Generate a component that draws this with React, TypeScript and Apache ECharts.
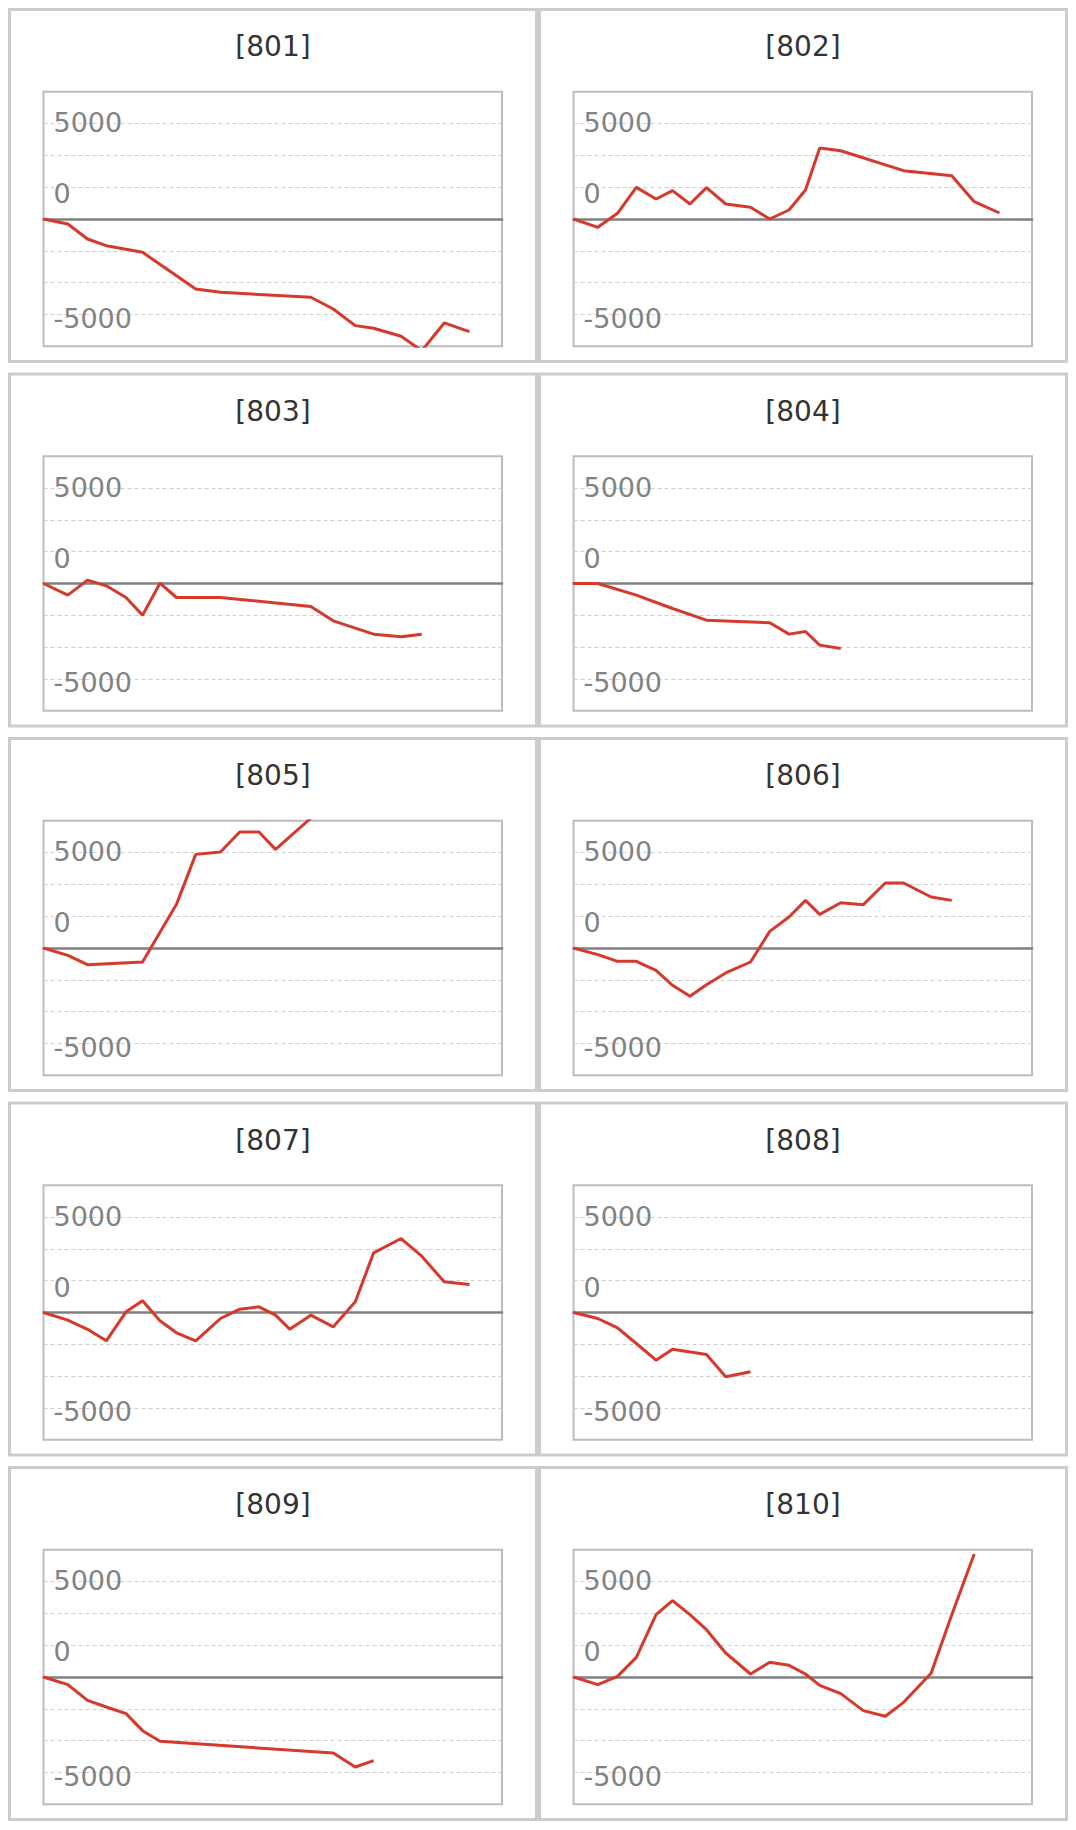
import React, { useEffect, useRef } from "react";
import * as echarts from "echarts";

// Panel titles
const panelNames = ["[801]", "[802]", "[803]", "[804]", "[805]", "[806]", "[807]", "[808]", "[809]", "[810]"];

// Shared time positions (share of the x range, 0..100)
const days = [0, 5.3, 9.6, 13.7, 18.0, 21.6, 25.4, 29.0, 33.2, 38.6, 42.8, 47.0, 50.6, 53.7, 58.3, 63.2, 68.0, 72.0, 78.0, 82.5, 87.4, 92.9];

// Cumulative values per panel (null = no vertex there)
const s801 = [0, -262, -1047, -1396, null, -1745, null, null, -3665, -3839, null, null, null, null, -4100, -4712, -5584, -5724, -6142, -6900, -5444, -5898];
const s802 = [0, -436, 297, 1658, 1047, 1483, 785, 1640, 785, 611, 0, 471, 1518, 3717, 3577, null, null, 2530, null, 2269, 907, 314];
const s803 = [0, -611, 175, -122, -733, -1658, 17, -733, null, -733, null, null, null, null, -1204, -1954, null, -2652, -2792, -2652];
const s804 = [0, 0, null, -611, null, -1309, null, -1920, null, null, -2059, -2652, -2513, -3228, -3403];
const s805 = [0, -384, -873, null, null, -733, null, 2286, 4903, 5026, 6073, 6073, 5165, null, 6800];
const s806 = [0, -349, -698, -698, -1169, -1954, -2530, -1920, -1309, -733, 873, 1623, 2495, 1762, 2373, 2268, 3403, 3403, 2670, 2495];
const s807 = [0, -401, -880, -1483, 35, 611, -436, -1064, -1483, -314, 175, 297, -140, -873, -140, -750, 558, 3124, 3874, 2949, 1605, 1466];
const s808 = [0, -314, -803, -1623, -2495, -1920, null, -2199, -3368, -3106];
const s809 = [0, -401, -1222, -1570, -1920, -2810, -3368, null, null, null, null, null, null, null, null, -3979, -4712, -4380];
const s810 = [0, -401, 35, 1030, 3263, 3996, 3263, 2478, 1256, 157, 768, 611, 157, -436, -873, -1762, -2059, -1326, 200, 3263, 6439];

const seriesValues = [s801, s802, s803, s804, s805, s806, s807, s808, s809, s810];

// Y axis: labelled ticks
const yLabelValues = [5000, 0, -5000];
const Y_MAX = 20000 / 3;
const Y_STEP = 5000 / 3;

const PANEL_W = 530;
const PANEL_H = 355;
const PITCH = 364.5;
const FONT = "'DejaVu Sans', sans-serif";

export default function App() {
  const ref = useRef<HTMLDivElement>(null);

  useEffect(() => {
    if (!ref.current) return;
    const chart = echarts.init(ref.current, null, { renderer: "svg" });

    const grids: any[] = [];
    const xAxes: any[] = [];
    const yAxes: any[] = [];
    const series: any[] = [];
    const titles: any[] = [];
    const graphics: any[] = [];

    seriesValues.forEach((vals, i) => {
      const px = (i % 2) * PANEL_W;
      const py = Math.floor(i / 2) * PITCH;

      graphics.push({
        type: "rect",
        silent: true,
        shape: { x: px + 1.5, y: py + 1.5, width: PANEL_W - 3, height: PANEL_H - 3 },
        style: { fill: "none", stroke: "#cccccc", lineWidth: 3 },
      });

      titles.push({
        text: panelNames[i],
        left: px + PANEL_W / 2,
        top: py + 38.5,
        padding: 0,
        textAlign: "center",
        textVerticalAlign: "middle",
        textStyle: { fontFamily: FONT, fontSize: 28, fontWeight: "normal", color: "#333333" },
      });

      grids.push({
        left: px + 35.5,
        top: py + 83.7,
        width: 458.5,
        height: 254.6,
        show: true,
        borderColor: "#bdbdbd",
        borderWidth: 2,
        backgroundColor: "transparent",
      });

      xAxes.push({
        type: "value",
        gridIndex: i,
        min: 0,
        max: 100,
        axisLine: { show: true, onZero: true, lineStyle: { color: "#808080", width: 2.6 } },
        axisTick: { show: false },
        axisLabel: { show: false },
        splitLine: { show: false },
      });

      yAxes.push({
        type: "value",
        gridIndex: i,
        min: -Y_MAX,
        max: Y_MAX,
        interval: Y_STEP,
        axisLine: { show: false },
        axisTick: { show: false },
        splitLine: {
          show: true,
          showMinLine: false,
          showMaxLine: false,
          lineStyle: { color: "#cfcfcf", width: 1, type: [4, 3] },
        },
        axisLabel: {
          inside: true,
          margin: 10,
          formatter: (v: number) => {
            const r = Math.round(v);
            if (r === yLabelValues[0]) return "{a|" + r + "}";
            if (r === yLabelValues[1]) return "{z|0}";
            if (r === yLabelValues[2]) return "{b|" + r + "}";
            return "";
          },
          rich: {
            a: { fontFamily: FONT, fontSize: 27, color: "#828282", padding: [0, 0, 2, 0] },
            z: { fontFamily: FONT, fontSize: 27, color: "#828282", padding: [0, 0, 51, 0] },
            b: { fontFamily: FONT, fontSize: 27, color: "#828282", padding: [8, 0, 0, 0] },
          },
        },
      });

      const data = days
        .map((d, k) => [d, vals[k]])
        .filter((p) => p[1] !== null && p[1] !== undefined);

      series.push({
        type: "line",
        xAxisIndex: i,
        yAxisIndex: i,
        data,
        showSymbol: false,
        symbol: "none",
        clip: true,
        lineStyle: { color: "#d6392b", width: 3 },
        emphasis: { disabled: true },
      });
    });

    chart.setOption({
      animation: false,
      backgroundColor: "#ffffff",
      title: titles,
      grid: grids,
      xAxis: xAxes,
      yAxis: yAxes,
      series,
      graphic: graphics,
    });

    return () => chart.dispose();
  }, []);

  return <div ref={ref} style={{ width: 1060, height: 1822 }} />;
}
